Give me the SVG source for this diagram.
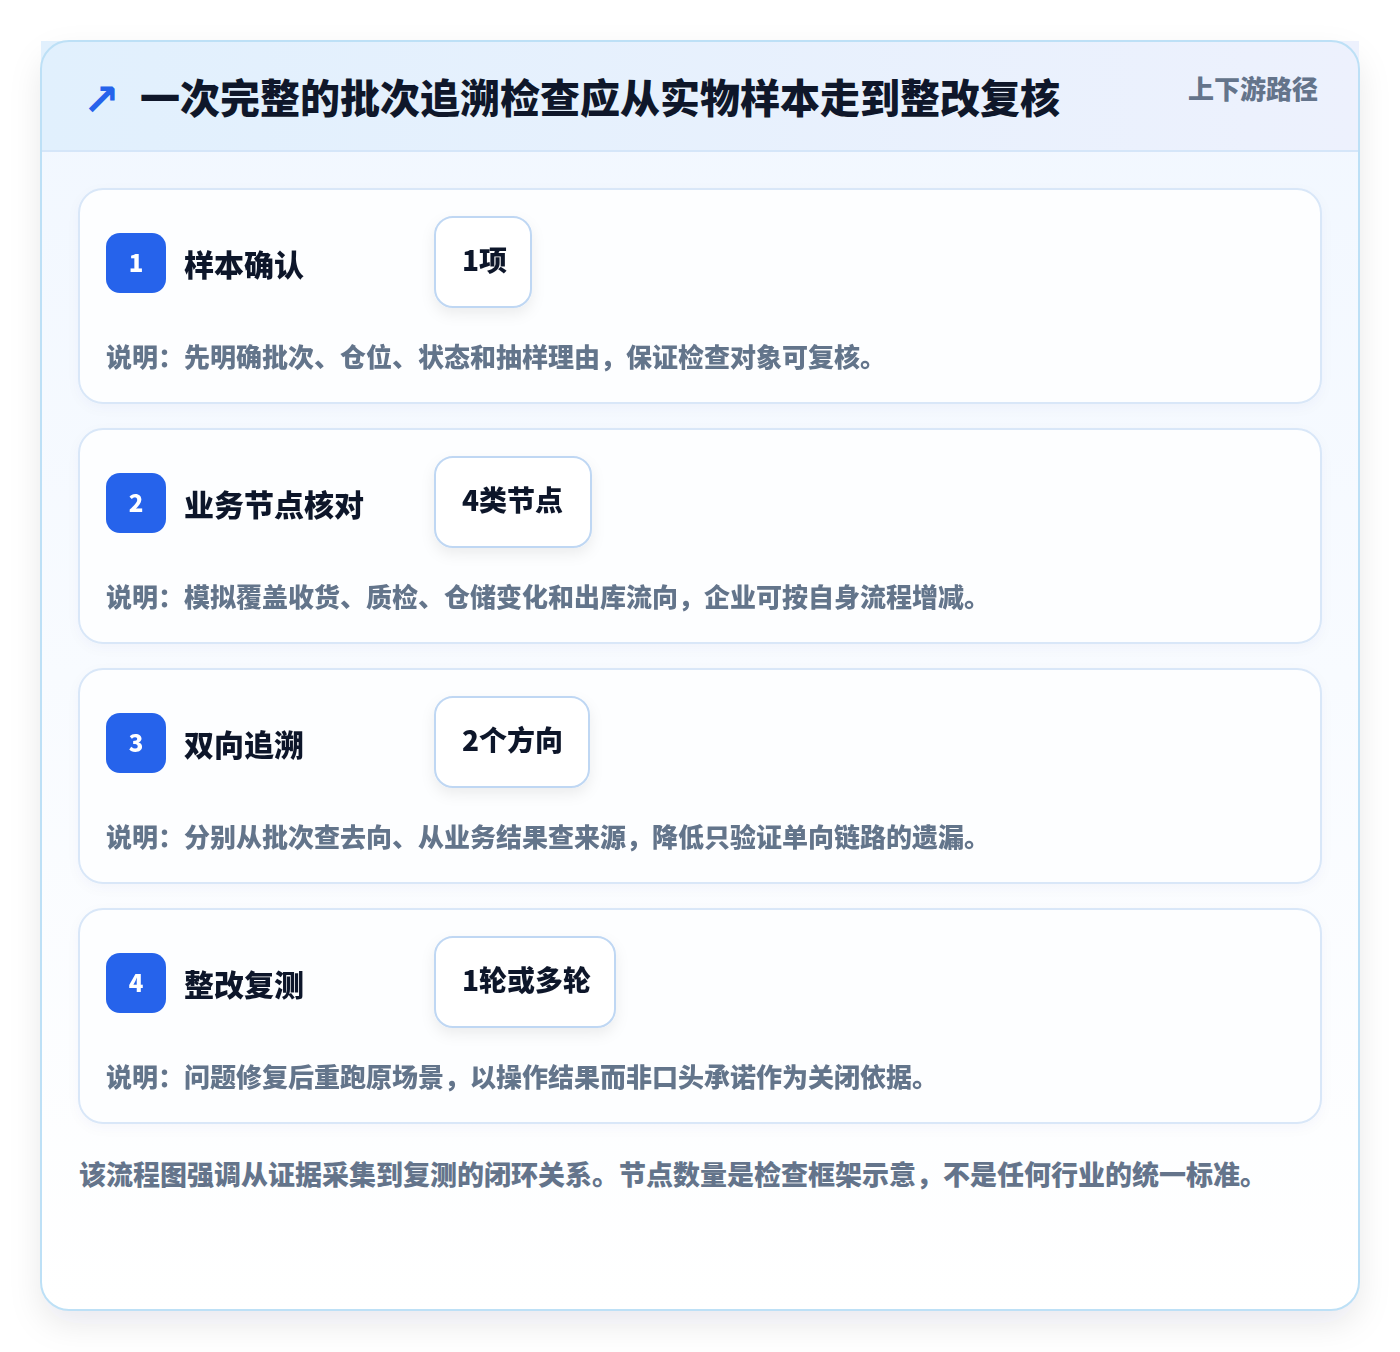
<svg xmlns="http://www.w3.org/2000/svg" width="1400" height="1352" viewBox="0 0 1400 1352">
<defs>
<style>
text{font-family:"Noto Sans CJK SC","Noto Sans",sans-serif;font-weight:900}
.card{fill:#fdfeff;stroke:#d9e7f8;stroke-width:2}
.badge{fill:#2563eb}
.num{fill:#ffffff;font-size:24px;text-anchor:middle}
.stitle{fill:#0f172a;font-size:30px}
.pill{fill:#ffffff;stroke:#bfd7f3;stroke-width:2}
.ptext{fill:#0f172a;font-size:28px}
.desc{fill:#64748b;font-size:26px}
</style>
<linearGradient id="hdr" x1="0" y1="0" x2="1" y2="0">
<stop offset="0" stop-color="#e1f0fd"/>
<stop offset="1" stop-color="#edf1fd"/>
</linearGradient>
<linearGradient id="body" x1="0" y1="0" x2="0" y2="1">
<stop offset="0" stop-color="#f1f7ff"/>
<stop offset="1" stop-color="#ffffff"/>
</linearGradient>
<filter id="sh" x="-10%" y="-10%" width="120%" height="125%">
<feDropShadow dx="0" dy="14" stdDeviation="16" flood-color="#0f172a" flood-opacity="0.09"/>
</filter>
<filter id="psh" x="-30%" y="-30%" width="160%" height="170%">
<feDropShadow dx="0" dy="6" stdDeviation="7" flood-color="#0f172a" flood-opacity="0.07"/>
</filter>
<filter id="csh" x="-5%" y="-10%" width="110%" height="130%">
<feDropShadow dx="0" dy="4" stdDeviation="6" flood-color="#1e3a8a" flood-opacity="0.03"/>
</filter>
</defs>
<rect width="1400" height="1352" fill="#ffffff"/>
<g id="frame">
<rect x="41" y="41" width="1318" height="1269" rx="28" fill="url(#body)" filter="url(#sh)"/>
<rect x="41" y="41" width="1318" height="110" fill="url(#hdr)"/>
<line x1="41" y1="151" x2="1359" y2="151" stroke="#d5e6f9" stroke-width="2"/>
<rect x="41" y="41" width="1318" height="1269" rx="28" fill="none" stroke="#bde0f6" stroke-width="2"/>
</g>
<g id="header">
<text x="83" y="115" font-size="44" fill="#2563eb" style="font-family:'DejaVu Sans',sans-serif;font-weight:700">↗</text>
<text x="140" y="113" font-size="40" fill="#0f172a">一次完整的批次追溯检查应从实物样本走到整改复核</text>
<text x="1318" y="99" font-size="26" fill="#64748b" text-anchor="end">上下游路径</text>
</g>
<g id="connectors"></g>
<g id="step1" filter="url(#csh)">
<rect class="card" x="79" y="189" width="1242" height="214" rx="24"/>
<rect class="badge" x="106" y="233" width="60" height="60" rx="14"/>
<text class="num" x="136" y="272">1</text>
<text class="stitle" x="184" y="276">样本确认</text>
<rect class="pill" x="435" y="217" width="96" height="90" rx="18" filter="url(#psh)"/>
<text class="ptext" x="462" y="271">1项</text>
<text class="desc" x="106" y="367">说明：先明确批次、仓位、状态和抽样理由，保证检查对象可复核。</text>
</g>
<g id="step2" filter="url(#csh)">
<rect class="card" x="79" y="429" width="1242" height="214" rx="24"/>
<rect class="badge" x="106" y="473" width="60" height="60" rx="14"/>
<text class="num" x="136" y="512">2</text>
<text class="stitle" x="184" y="516">业务节点核对</text>
<rect class="pill" x="435" y="457" width="156" height="90" rx="18" filter="url(#psh)"/>
<text class="ptext" x="462" y="511">4类节点</text>
<text class="desc" x="106" y="607">说明：模拟覆盖收货、质检、仓储变化和出库流向，企业可按自身流程增减。</text>
</g>
<g id="step3" filter="url(#csh)">
<rect class="card" x="79" y="669" width="1242" height="214" rx="24"/>
<rect class="badge" x="106" y="713" width="60" height="60" rx="14"/>
<text class="num" x="136" y="752">3</text>
<text class="stitle" x="184" y="756">双向追溯</text>
<rect class="pill" x="435" y="697" width="154" height="90" rx="18" filter="url(#psh)"/>
<text class="ptext" x="462" y="751">2个方向</text>
<text class="desc" x="106" y="847">说明：分别从批次查去向、从业务结果查来源，降低只验证单向链路的遗漏。</text>
</g>
<g id="step4" filter="url(#csh)">
<rect class="card" x="79" y="909" width="1242" height="214" rx="24"/>
<rect class="badge" x="106" y="953" width="60" height="60" rx="14"/>
<text class="num" x="136" y="992">4</text>
<text class="stitle" x="184" y="996">整改复测</text>
<rect class="pill" x="435" y="937" width="180" height="90" rx="18" filter="url(#psh)"/>
<text class="ptext" x="462" y="991">1轮或多轮</text>
<text class="desc" x="106" y="1087">说明：问题修复后重跑原场景，以操作结果而非口头承诺作为关闭依据。</text>
</g>
<g id="footer">
<text x="79" y="1185" font-size="27" fill="#64748b">该流程图强调从证据采集到复测的闭环关系。节点数量是检查框架示意，不是任何行业的统一标准。</text>
</g>
</svg>
